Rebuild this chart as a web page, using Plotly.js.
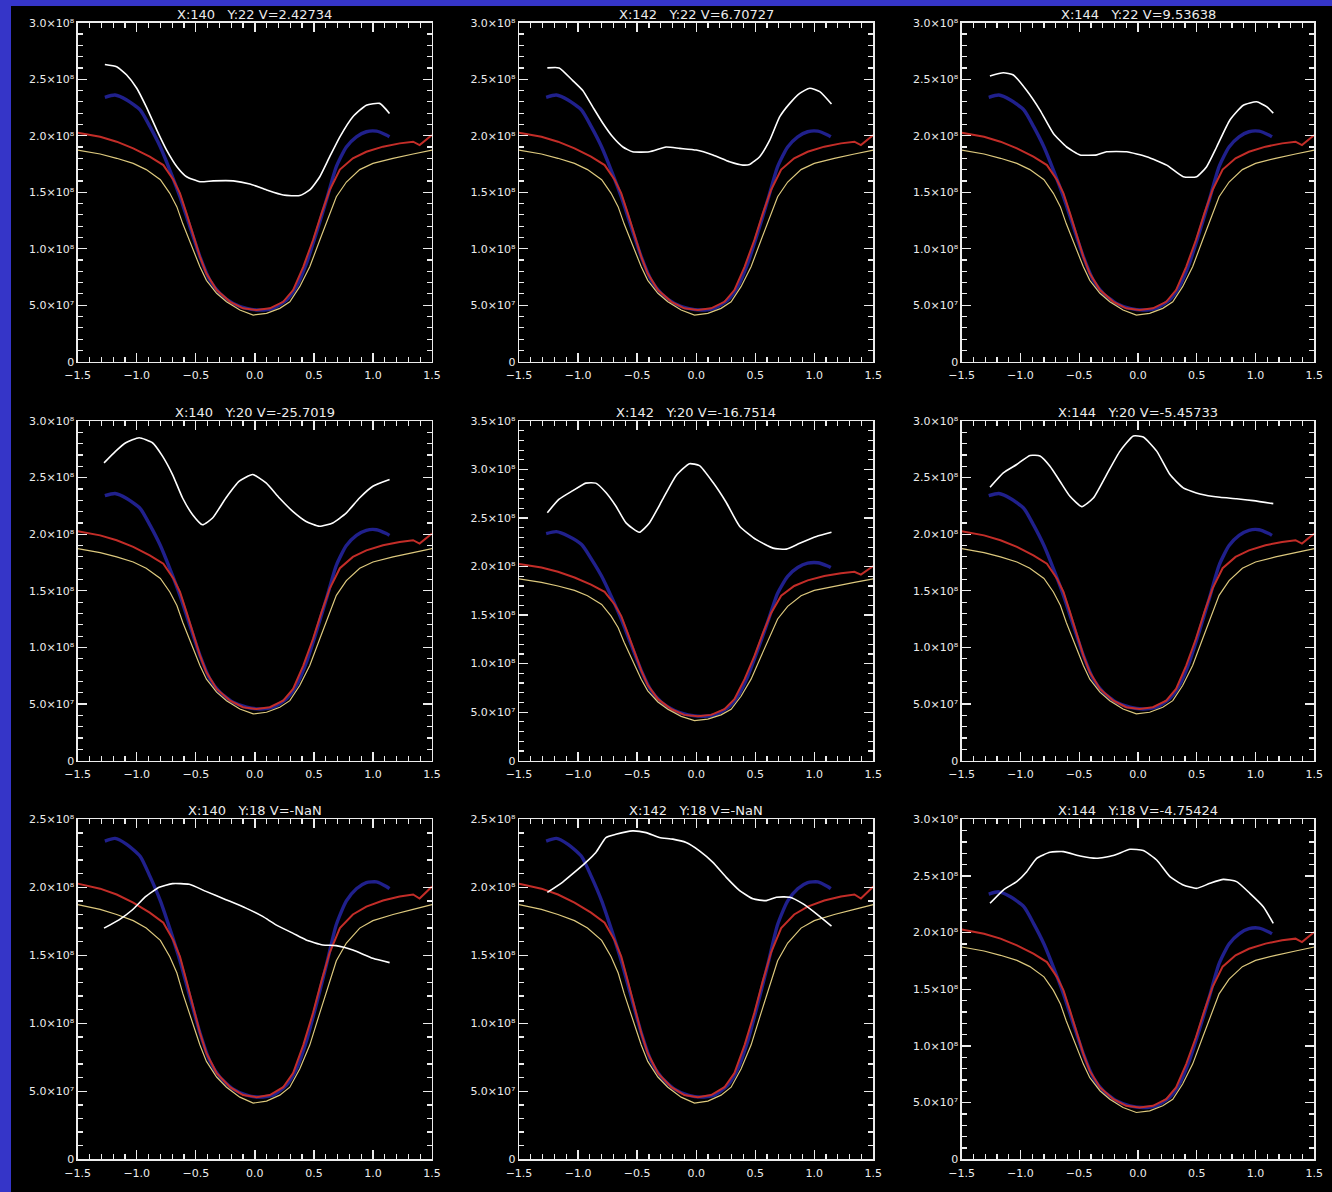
<!DOCTYPE html>
<html>
<head>
<meta charset="utf-8">
<script src="https://cdn.plot.ly/plotly-3.0.1.min.js"></script>
<style>
  html, body { margin: 0; padding: 0; background: #3535c8; width: 1332px; height: 1192px; overflow: hidden; }
  #chart { position: absolute; left: 11px; top: 6px; width: 1321px; height: 1186px; background: #000; }
</style>
</head>
<body>
<div id="chart"></div>
<script>
// ---------------- DATA (intensity in units of 1e8) ----------------
const panelTitles = [
  "X:140   Y:22 V=2.42734", "X:142   Y:22 V=6.70727", "X:144   Y:22 V=9.53638",
  "X:140   Y:20 V=-25.7019", "X:142   Y:20 V=-16.7514", "X:144   Y:20 V=-5.45733",
  "X:140   Y:18 V=-NaN", "X:142   Y:18 V=-NaN", "X:144   Y:18 V=-4.75424"
];
const yMax = [3.0, 3.0, 3.0, 3.0, 3.5, 3.0, 2.5, 2.5, 3.0];

const xTickVals = [-1.5, -1.0, -0.5, 0.0, 0.5, 1.0, 1.5];
const xTickText = ["\u22121.5", "\u22121.0", "\u22120.5", "0.0", "0.5", "1.0", "1.5"];
const yTickVals = [0, 0.5, 1.0, 1.5, 2.0, 2.5, 3.0, 3.5];
const yTickText = ["0", "5.0\u00d710\u2077", "1.0\u00d710\u2078", "1.5\u00d710\u2078",
                   "2.0\u00d710\u2078", "2.5\u00d710\u2078", "3.0\u00d710\u2078", "3.5\u00d710\u2078"];

// reference profiles (same in every panel)
const yellowX = [-1.5, -1.31, -1.17, -1.03, -0.92, -0.80, -0.72, -0.66, -0.61, -0.52, -0.465, -0.41, -0.324, -0.24, -0.127, -0.014, 0.099, 0.211, 0.296, 0.38, 0.465, 0.55, 0.634, 0.69, 0.775, 0.888, 1.0, 1.17, 1.34, 1.5];
const yellowY = [1.873, 1.838, 1.80, 1.755, 1.70, 1.61, 1.49, 1.37, 1.22, 0.99, 0.84, 0.72, 0.605, 0.53, 0.457, 0.413, 0.428, 0.472, 0.53, 0.664, 0.84, 1.077, 1.31, 1.46, 1.59, 1.70, 1.755, 1.80, 1.838, 1.873];

const redX = [-1.5, -1.31, -1.17, -1.03, -0.89, -0.775, -0.69, -0.634, -0.578, -0.52, -0.465, -0.41, -0.324, -0.21, -0.1, 0.014, 0.127, 0.24, 0.324, 0.41, 0.493, 0.564, 0.634, 0.72, 0.83, 0.944, 1.085, 1.226, 1.34, 1.395, 1.45, 1.5];
const redY = [2.027, 1.99, 1.947, 1.888, 1.814, 1.74, 1.61, 1.49, 1.31, 1.106, 0.93, 0.78, 0.634, 0.53, 0.472, 0.457, 0.472, 0.53, 0.634, 0.84, 1.077, 1.31, 1.52, 1.70, 1.80, 1.858, 1.903, 1.932, 1.947, 1.917, 1.96, 2.006];

const blueX = [-1.27, -1.184, -1.085, -0.97, -0.888, -0.80, -0.72, -0.634, -0.55, -0.465, -0.38, -0.296, -0.183, -0.07, 0.042, 0.155, 0.268, 0.352, 0.437, 0.52, 0.606, 0.69, 0.775, 0.86, 0.944, 1.03, 1.113, 1.14];
const blueY = [2.34, 2.36, 2.316, 2.227, 2.08, 1.90, 1.696, 1.46, 1.195, 0.93, 0.72, 0.605, 0.516, 0.472, 0.457, 0.472, 0.546, 0.664, 0.87, 1.136, 1.43, 1.726, 1.90, 1.99, 2.035, 2.04, 2.006, 1.99];

// observed profiles (white), one per panel
const white1X = [-1.27, -1.17, -1.085, -1.0, -0.92, -0.83, -0.747, -0.66, -0.578, -0.465, -0.352, -0.183, -0.042, 0.099, 0.24, 0.38, 0.465, 0.55, 0.634, 0.72, 0.83, 0.944, 1.057, 1.14];
const white1Y = [2.63, 2.61, 2.537, 2.42, 2.257, 2.05, 1.873, 1.726, 1.637, 1.593, 1.60, 1.60, 1.572, 1.52, 1.475, 1.47, 1.52, 1.637, 1.814, 1.99, 2.168, 2.27, 2.286, 2.197];

const white2X = [-1.26, -1.16, -1.047, -0.96, -0.877, -0.79, -0.707, -0.62, -0.538, -0.396, -0.255, -0.14, 0.0, 0.142, 0.283, 0.396, 0.453, 0.538, 0.623, 0.708, 0.793, 0.877, 0.962, 1.047, 1.146];
const white2Y = [2.60, 2.60, 2.49, 2.40, 2.257, 2.11, 1.99, 1.90, 1.858, 1.858, 1.90, 1.888, 1.873, 1.83, 1.77, 1.74, 1.746, 1.814, 1.96, 2.168, 2.286, 2.375, 2.42, 2.39, 2.28];

const white3X = [-1.26, -1.146, -1.06, -0.947, -0.834, -0.72, -0.607, -0.493, -0.35, -0.267, -0.097, 0.074, 0.244, 0.385, 0.499, 0.584, 0.669, 0.782, 0.896, 1.009, 1.094, 1.151];
const white3Y = [2.528, 2.557, 2.537, 2.40, 2.227, 2.02, 1.90, 1.83, 1.83, 1.858, 1.858, 1.814, 1.74, 1.637, 1.637, 1.726, 1.90, 2.139, 2.27, 2.30, 2.257, 2.20];

const white4X = [-1.277, -1.178, -1.093, -0.98, -0.867, -0.782, -0.697, -0.612, -0.527, -0.443, -0.358, -0.245, -0.132, -0.019, 0.095, 0.208, 0.321, 0.434, 0.547, 0.66, 0.773, 0.886, 0.999, 1.141];
const white4Y = [2.63, 2.734, 2.808, 2.852, 2.808, 2.69, 2.527, 2.32, 2.173, 2.084, 2.143, 2.32, 2.468, 2.527, 2.453, 2.32, 2.202, 2.113, 2.07, 2.10, 2.187, 2.32, 2.424, 2.483];

const white5X = [-1.26, -1.16, -1.047, -0.934, -0.85, -0.764, -0.68, -0.594, -0.481, -0.396, -0.283, -0.17, -0.057, 0.028, 0.142, 0.255, 0.368, 0.51, 0.651, 0.764, 0.877, 1.019, 1.146];
const white5Y = [2.555, 2.694, 2.78, 2.86, 2.86, 2.763, 2.624, 2.45, 2.353, 2.45, 2.694, 2.937, 3.06, 3.04, 2.868, 2.66, 2.416, 2.277, 2.19, 2.18, 2.24, 2.31, 2.353];

const white6X = [-1.259, -1.146, -1.032, -0.919, -0.834, -0.749, -0.664, -0.579, -0.479, -0.38, -0.267, -0.153, -0.04, 0.045, 0.159, 0.272, 0.385, 0.527, 0.697, 0.839, 0.981, 1.151];
const white6Y = [2.415, 2.542, 2.616, 2.696, 2.69, 2.60, 2.468, 2.335, 2.244, 2.32, 2.527, 2.734, 2.867, 2.858, 2.734, 2.527, 2.41, 2.356, 2.326, 2.314, 2.297, 2.27];

const white7X = [-1.277, -1.15, -1.036, -0.923, -0.81, -0.697, -0.556, -0.414, -0.245, -0.075, 0.066, 0.179, 0.321, 0.434, 0.575, 0.688, 0.83, 0.999, 1.141];
const white7Y = [1.70, 1.761, 1.835, 1.933, 2.0, 2.027, 2.022, 1.97, 1.909, 1.847, 1.786, 1.724, 1.663, 1.613, 1.576, 1.571, 1.539, 1.478, 1.446];

const white8X = [-1.26, -1.132, -1.047, -0.934, -0.849, -0.764, -0.68, -0.538, -0.424, -0.311, -0.198, -0.085, 0.028, 0.142, 0.255, 0.368, 0.481, 0.594, 0.68, 0.793, 0.906, 1.019, 1.146];
const white8Y = [1.963, 2.037, 2.098, 2.183, 2.256, 2.366, 2.39, 2.415, 2.402, 2.366, 2.354, 2.329, 2.268, 2.183, 2.073, 1.976, 1.915, 1.902, 1.927, 1.927, 1.878, 1.805, 1.715];

const white9X = [-1.259, -1.146, -1.032, -0.947, -0.862, -0.749, -0.635, -0.493, -0.352, -0.21, -0.068, 0.045, 0.159, 0.272, 0.385, 0.499, 0.612, 0.726, 0.839, 0.952, 1.066, 1.151];
const white9Y = [2.259, 2.376, 2.45, 2.538, 2.656, 2.709, 2.715, 2.676, 2.656, 2.68, 2.735, 2.724, 2.641, 2.494, 2.42, 2.391, 2.435, 2.47, 2.45, 2.347, 2.229, 2.082];

const whiteXs = [white1X, white2X, white3X, white4X, white5X, white6X, white7X, white8X, white9X];
const whiteYs = [white1Y, white2Y, white3Y, white4Y, white5Y, white6Y, white7Y, white8Y, white9Y];

// ---------------- LAYOUT ----------------
const W = 1321, H = 1186;
const colPx = [[66.7, 421], [508, 862.3], [950.7, 1303.3]];
const rowPx = [[16.7, 355.7], [415, 754.7], [813.3, 1153.3]];
const FONT = "DejaVu Sans, Liberation Sans, sans-serif";
const TXT = "#ececec";

const traces = [];
const layout = {
  width: W, height: H,
  margin: {l: 0, r: 0, t: 0, b: 0},
  paper_bgcolor: "#000", plot_bgcolor: "#000",
  showlegend: false,
  font: {family: FONT, color: TXT, size: 11},
  annotations: []
};

for (let i = 0; i < 9; i++) {
  const r = Math.floor(i / 3), c = i % 3;
  const sfx = i === 0 ? "" : String(i + 1);
  const xa = "x" + sfx, ya = "y" + sfx;

  const common = {
    showgrid: false, zeroline: false,
    showline: true, linecolor: TXT, linewidth: 1.3,
    mirror: "allticks", ticks: "inside", ticklen: 9, tickwidth: 1.3, tickcolor: TXT,
    tickfont: {family: FONT, size: 11, color: TXT},
    fixedrange: true
  };
  layout["xaxis" + sfx] = Object.assign({}, common, {
    domain: [colPx[c][0] / W, colPx[c][1] / W],
    anchor: ya, range: [-1.5, 1.5],
    tickmode: "array", tickvals: xTickVals, ticktext: xTickText,
    ticklabelstandoff: 3,
    minor: {dtick: 0.1, ticks: "inside", ticklen: 5, tickwidth: 1.2, tickcolor: TXT, showgrid: false}
  });
  const nT = Math.round(yMax[i] / 0.5) + 1;
  layout["yaxis" + sfx] = Object.assign({}, common, {
    domain: [1 - rowPx[r][1] / H, 1 - rowPx[r][0] / H],
    anchor: xa, range: [0, yMax[i]],
    tickmode: "array", tickvals: yTickVals.slice(0, nT), ticktext: yTickText.slice(0, nT),
    minor: {dtick: 0.1, ticks: "inside", ticklen: 5, tickwidth: 1.2, tickcolor: TXT, showgrid: false}
  });

  traces.push({x: blueX, y: blueY, xaxis: xa, yaxis: ya, type: "scatter", mode: "lines",
    line: {color: "rgb(32,32,140)", width: 3.4, shape: "spline", smoothing: 0.6}, hoverinfo: "skip"});
  traces.push({x: redX, y: redY, xaxis: xa, yaxis: ya, type: "scatter", mode: "lines",
    line: {color: "rgb(195,45,40)", width: 2}, hoverinfo: "skip"});
  traces.push({x: yellowX, y: yellowY, xaxis: xa, yaxis: ya, type: "scatter", mode: "lines",
    line: {color: "rgb(220,200,125)", width: 1.2}, hoverinfo: "skip"});
  traces.push({x: whiteXs[i], y: whiteYs[i], xaxis: xa, yaxis: ya, type: "scatter", mode: "lines",
    line: {color: "#ffffff", width: 1.6, shape: "spline", smoothing: 0.5}, hoverinfo: "skip"});

  layout.annotations.push({
    xref: xa + " domain", yref: ya + " domain", x: 0.5, y: 1,
    xanchor: "center", yanchor: "bottom", yshift: -1, showarrow: false,
    text: panelTitles[i].replace(/ /g, "\u00a0"),
    font: {family: FONT, size: 13, color: TXT}
  });
}

Plotly.newPlot("chart", traces, layout, {displayModeBar: false, staticPlot: true});
</script>
</body>
</html>
